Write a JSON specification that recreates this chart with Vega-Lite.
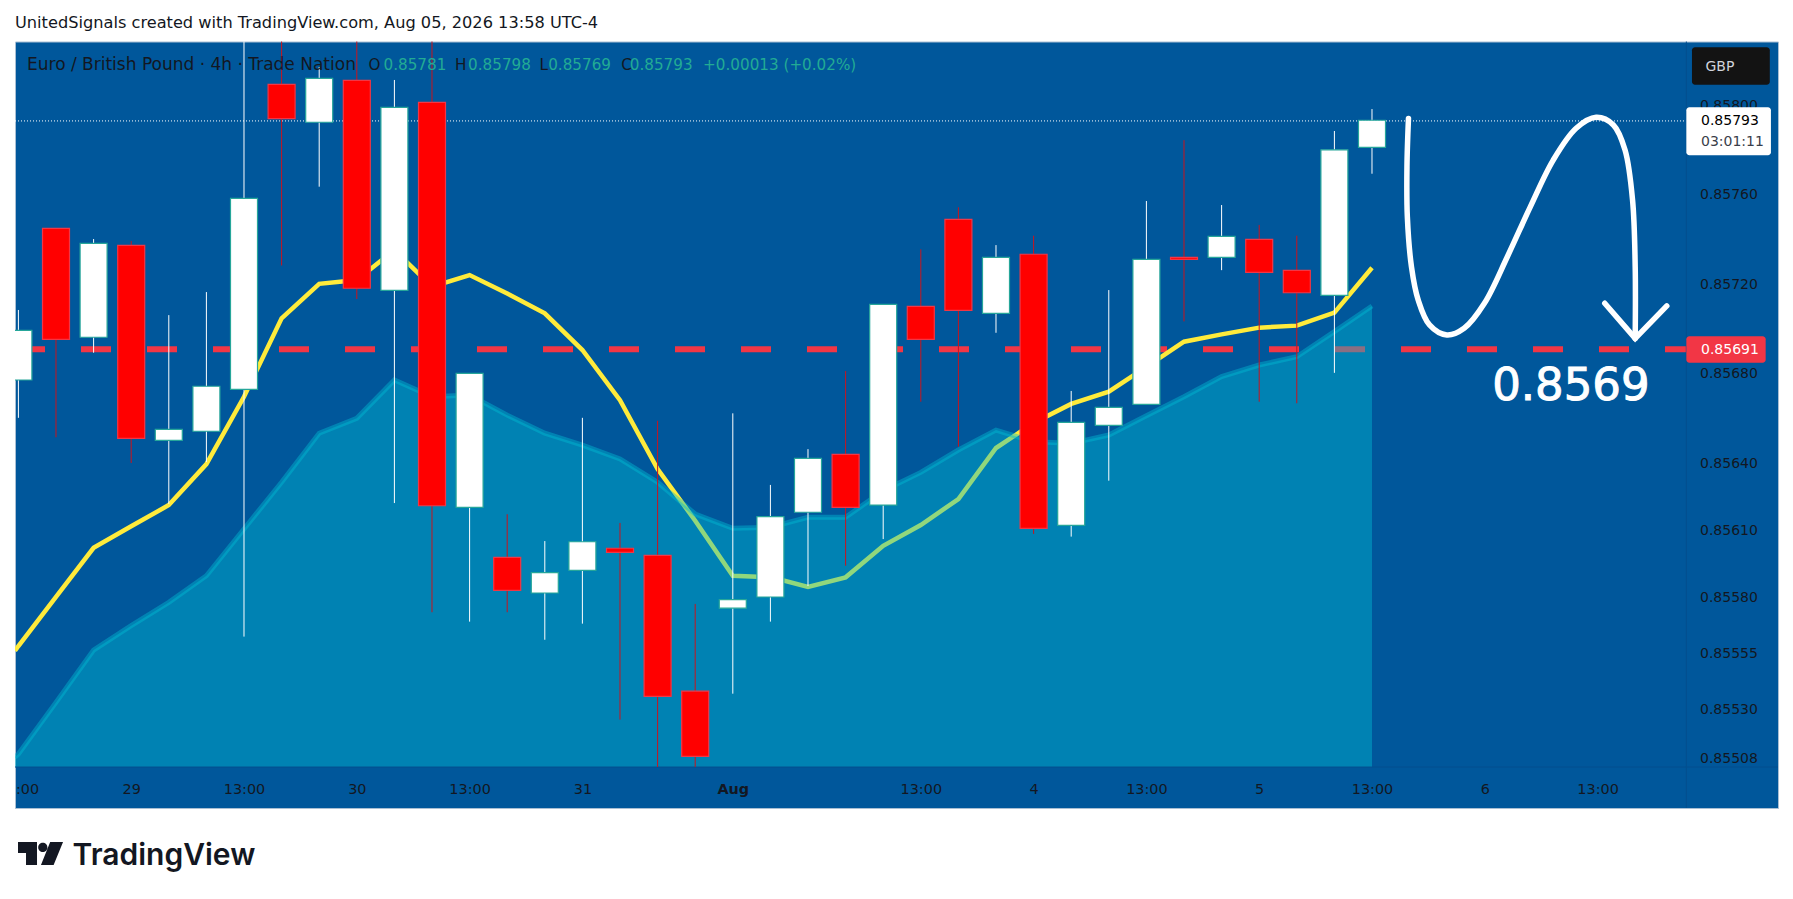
{
  "$schema": "https://vega.github.io/schema/vega-lite/v6.json",
  "width": 1763,
  "height": 766.5,
  "autosize": "none",
  "padding": {"left": 15, "top": 41.5, "right": 15, "bottom": 91},
  "background": "#ffffff",
  "view": {"fill": "#00579b", "stroke": "#a9bfd4", "strokeWidth": 1},
  "config": {"scale": {"continuousPadding": 0}},
  "title": {
    "text": "UnitedSignals created with TradingView.com, Aug 05, 2026 13:58 UTC-4",
    "anchor": "start",
    "frame": "group",
    "offset": 10,
    "font": "DejaVu Sans",
    "fontSize": 16.2,
    "fontWeight": "normal",
    "color": "#131722"
  },
  "data": {"values": [{"note": "annotation"}]},
  "datasets": {
    "candles": [
      {"i": 0, "open": 0.856772, "high": 0.857085, "low": 0.856603, "close": 0.856994, "dir": "up"},
      {"i": 1, "open": 0.85745, "high": 0.85745, "low": 0.856516, "close": 0.856954, "dir": "down"},
      {"i": 2, "open": 0.856963, "high": 0.857402, "low": 0.856894, "close": 0.857383, "dir": "up"},
      {"i": 3, "open": 0.857374, "high": 0.857393, "low": 0.856401, "close": 0.856511, "dir": "down"},
      {"i": 4, "open": 0.856502, "high": 0.857062, "low": 0.856218, "close": 0.856551, "dir": "up"},
      {"i": 5, "open": 0.856543, "high": 0.857165, "low": 0.856405, "close": 0.856744, "dir": "up"},
      {"i": 6, "open": 0.85673, "high": 0.858285, "low": 0.855625, "close": 0.857584, "dir": "up"},
      {"i": 7, "open": 0.858093, "high": 0.858285, "low": 0.857284, "close": 0.85794, "dir": "down"},
      {"i": 8, "open": 0.857924, "high": 0.858171, "low": 0.857636, "close": 0.85812, "dir": "up"},
      {"i": 9, "open": 0.858111, "high": 0.858285, "low": 0.857134, "close": 0.857182, "dir": "down"},
      {"i": 10, "open": 0.857173, "high": 0.858113, "low": 0.856222, "close": 0.857991, "dir": "up"},
      {"i": 11, "open": 0.858013, "high": 0.858285, "low": 0.855734, "close": 0.85621, "dir": "down"},
      {"i": 12, "open": 0.856203, "high": 0.856802, "low": 0.855692, "close": 0.856802, "dir": "up"},
      {"i": 13, "open": 0.855979, "high": 0.856172, "low": 0.855734, "close": 0.855832, "dir": "down"},
      {"i": 14, "open": 0.85582, "high": 0.856052, "low": 0.855611, "close": 0.855911, "dir": "up"},
      {"i": 15, "open": 0.855921, "high": 0.856603, "low": 0.855683, "close": 0.856049, "dir": "up"},
      {"i": 16, "open": 0.85602, "high": 0.856133, "low": 0.855254, "close": 0.856002, "dir": "down"},
      {"i": 17, "open": 0.855988, "high": 0.85659, "low": 0.855042, "close": 0.855358, "dir": "down"},
      {"i": 18, "open": 0.855381, "high": 0.855771, "low": 0.855042, "close": 0.85509, "dir": "down"},
      {"i": 19, "open": 0.855752, "high": 0.856623, "low": 0.85537, "close": 0.85579, "dir": "up"},
      {"i": 20, "open": 0.855802, "high": 0.856303, "low": 0.855692, "close": 0.856161, "dir": "up"},
      {"i": 21, "open": 0.856181, "high": 0.856463, "low": 0.855851, "close": 0.856422, "dir": "up"},
      {"i": 22, "open": 0.85644, "high": 0.856812, "low": 0.855942, "close": 0.856203, "dir": "down"},
      {"i": 23, "open": 0.856213, "high": 0.85711, "low": 0.856061, "close": 0.85711, "dir": "up"},
      {"i": 24, "open": 0.857101, "high": 0.857356, "low": 0.856675, "close": 0.856954, "dir": "down"},
      {"i": 25, "open": 0.85749, "high": 0.857544, "low": 0.856474, "close": 0.857083, "dir": "down"},
      {"i": 26, "open": 0.85707, "high": 0.857375, "low": 0.856983, "close": 0.85732, "dir": "up"},
      {"i": 27, "open": 0.857334, "high": 0.857417, "low": 0.856084, "close": 0.856109, "dir": "down"},
      {"i": 28, "open": 0.856122, "high": 0.856723, "low": 0.856072, "close": 0.856583, "dir": "up"},
      {"i": 29, "open": 0.856569, "high": 0.857174, "low": 0.856322, "close": 0.85665, "dir": "up"},
      {"i": 30, "open": 0.856663, "high": 0.857572, "low": 0.856663, "close": 0.857311, "dir": "up"},
      {"i": 31, "open": 0.85732, "high": 0.857844, "low": 0.857034, "close": 0.857311, "dir": "down"},
      {"i": 32, "open": 0.85732, "high": 0.857554, "low": 0.857263, "close": 0.857414, "dir": "up"},
      {"i": 33, "open": 0.857401, "high": 0.857465, "low": 0.856675, "close": 0.857253, "dir": "down"},
      {"i": 34, "open": 0.857262, "high": 0.857417, "low": 0.856668, "close": 0.857162, "dir": "down"},
      {"i": 35, "open": 0.85715, "high": 0.857885, "low": 0.856804, "close": 0.857801, "dir": "up"},
      {"i": 36, "open": 0.857812, "high": 0.857983, "low": 0.857694, "close": 0.857933, "dir": "up"}
    ],
    "averages": [
      {"i": -0.09, "fast": 0.855562, "slow": 0.855087},
      {"i": 0, "fast": 0.855583, "slow": 0.8551},
      {"i": 1, "fast": 0.855803, "slow": 0.855331},
      {"i": 2, "fast": 0.856022, "slow": 0.855565},
      {"i": 3, "fast": 0.856118, "slow": 0.855674},
      {"i": 4, "fast": 0.856213, "slow": 0.855778},
      {"i": 5, "fast": 0.856396, "slow": 0.855897},
      {"i": 6, "fast": 0.856697, "slow": 0.856106},
      {"i": 7, "fast": 0.857048, "slow": 0.856315},
      {"i": 8, "fast": 0.857202, "slow": 0.856534},
      {"i": 9, "fast": 0.857219, "slow": 0.856601},
      {"i": 10, "fast": 0.857353, "slow": 0.856772},
      {"i": 11, "fast": 0.857189, "slow": 0.856697},
      {"i": 12, "fast": 0.857241, "slow": 0.856705},
      {"i": 13, "fast": 0.857159, "slow": 0.856615},
      {"i": 14, "fast": 0.85707, "slow": 0.856534},
      {"i": 15, "fast": 0.856906, "slow": 0.856481},
      {"i": 16, "fast": 0.856682, "slow": 0.856419},
      {"i": 17, "fast": 0.856374, "slow": 0.856315},
      {"i": 18, "fast": 0.856143, "slow": 0.856173},
      {"i": 19, "fast": 0.855897, "slow": 0.856109},
      {"i": 20, "fast": 0.855891, "slow": 0.856114},
      {"i": 21, "fast": 0.855847, "slow": 0.856158},
      {"i": 22, "fast": 0.85589, "slow": 0.856158},
      {"i": 23, "fast": 0.856031, "slow": 0.856277},
      {"i": 24, "fast": 0.856124, "slow": 0.856359},
      {"i": 25, "fast": 0.85624, "slow": 0.856459},
      {"i": 26, "fast": 0.856468, "slow": 0.856548},
      {"i": 27, "fast": 0.85658, "slow": 0.856496},
      {"i": 28, "fast": 0.856665, "slow": 0.856489},
      {"i": 29, "fast": 0.85672, "slow": 0.856526},
      {"i": 30, "fast": 0.856831, "slow": 0.856612},
      {"i": 31, "fast": 0.856943, "slow": 0.856697},
      {"i": 32, "fast": 0.856976, "slow": 0.856787},
      {"i": 33, "fast": 0.857006, "slow": 0.856839},
      {"i": 34, "fast": 0.857015, "slow": 0.856876},
      {"i": 35, "fast": 0.857073, "slow": 0.856988},
      {"i": 36, "fast": 0.857274, "slow": 0.857103}
    ],
    "sketch": [
      {"n": 1, "i": 36.97, "p": 0.857941},
      {"n": 2, "i": 36.93, "p": 0.857725},
      {"n": 3, "i": 36.94, "p": 0.857502},
      {"n": 4, "i": 37.05, "p": 0.857278},
      {"n": 5, "i": 37.23, "p": 0.857129},
      {"n": 6, "i": 37.53, "p": 0.857018},
      {"n": 7, "i": 37.99, "p": 0.856973},
      {"n": 8, "i": 38.45, "p": 0.857003},
      {"n": 9, "i": 38.99, "p": 0.857115},
      {"n": 10, "i": 39.6, "p": 0.857323},
      {"n": 11, "i": 40.21, "p": 0.857546},
      {"n": 12, "i": 40.82, "p": 0.857755},
      {"n": 13, "i": 41.43, "p": 0.857897},
      {"n": 14, "i": 41.96, "p": 0.857946},
      {"n": 15, "i": 42.42, "p": 0.857912},
      {"n": 16, "i": 42.73, "p": 0.8578},
      {"n": 17, "i": 42.93, "p": 0.857576},
      {"n": 18, "i": 43, "p": 0.857278},
      {"n": 19, "i": 43, "p": 0.856958}
    ],
    "arrowhead": [
      {"n": 1, "i": 42.19, "p": 0.857115},
      {"n": 2, "i": 43, "p": 0.856958},
      {"n": 3, "i": 43.84, "p": 0.857103}
    ],
    "boxes": [
      {"i0": 44.51, "i1": 46.58, "p0": 0.858259, "p1": 0.858092, "kind": "currency"},
      {"i0": 44.36, "i1": 46.61, "p0": 0.857991, "p1": 0.857777, "kind": "last"},
      {"i0": 44.36, "i1": 46.47, "p0": 0.856968, "p1": 0.856849, "kind": "target"}
    ],
    "legendText": [
      {"i": 9.31, "p": 0.858182, "label": "O", "kind": "dark"},
      {"i": 9.71, "p": 0.858182, "label": "0.85781", "kind": "teal"},
      {"i": 11.61, "p": 0.858182, "label": "H", "kind": "dark"},
      {"i": 11.96, "p": 0.858182, "label": "0.85798", "kind": "teal"},
      {"i": 13.86, "p": 0.858182, "label": "L", "kind": "dark"},
      {"i": 14.09, "p": 0.858182, "label": "0.85769", "kind": "teal"},
      {"i": 16.03, "p": 0.858182, "label": "C", "kind": "dark"},
      {"i": 16.26, "p": 0.858182, "label": "0.85793", "kind": "teal"},
      {"i": 18.21, "p": 0.858182, "label": "+0.00013 (+0.02%)", "kind": "teal"}
    ],
    "priceTags": [
      {"i": 44.87, "p": 0.858172, "label": "GBP", "kind": "pale"},
      {"i": 44.75, "p": 0.857928, "label": "0.85793", "kind": "dark"},
      {"i": 44.75, "p": 0.857834, "label": "03:01:11", "kind": "grey"},
      {"i": 44.75, "p": 0.856905, "label": "0.85691", "kind": "white"}
    ]
  },
  "resolve": {"scale": {"color": "independent", "stroke": "independent"}},
  "layer": [
    {
      "mark": {"type": "rule", "color": "#f23645", "strokeWidth": 6, "strokeDash": [30, 36]},
      "encoding": {
        "x": {"datum": -0.0904, "type": "quantitative", "scale": {"domain": [-0.0904, 46.798]}},
        "x2": {"datum": 44.36},
        "y": {"datum": 0.85691, "type": "quantitative", "scale": {"domain": [0.854859, 0.858285]}}
      }
    },
    {
      "mark": {"type": "rule", "color": "#ffffff", "strokeWidth": 1, "strokeDash": [1, 2]},
      "encoding": {
        "x": {"datum": -0.0904, "type": "quantitative", "scale": {"domain": [-0.0904, 46.798]}},
        "x2": {"datum": 44.36},
        "y": {"datum": 0.85793, "type": "quantitative", "scale": {"domain": [0.854859, 0.858285]}}
      }
    },
    {
      "data": {"name": "averages"},
      "mark": {"type": "line", "color": "#ffeb3b", "strokeWidth": 4.5, "clip": true},
      "encoding": {
        "x": {"field": "i", "type": "quantitative", "scale": {"domain": [-0.0904, 46.798]},
          "axis": {
            "orient": "bottom", "offset": -19, "title": null, "grid": false, "domain": false, "ticks": false,
            "values": [0.23, 3, 6, 9, 12, 15, 19, 24, 27, 30, 33, 36, 39, 42],
            "labelExpr": "({'0.23': ':00', '3': '29', '6': '13:00', '9': '30', '12': '13:00', '15': '31', '19': 'Aug', '24': '13:00', '27': '4', '30': '13:00', '33': '5', '36': '13:00', '39': '6', '42': '13:00'})[datum.value]",
            "labelFontWeight": {"expr": "datum.value == 19 ? 'bold' : 'normal'"},
            "labelFont": "DejaVu Sans", "labelFontSize": 14.4, "labelColor": "#131722",
            "labelPadding": 0, "labelBaseline": "middle", "labelOverlap": false, "labelBound": false, "labelFlush": false, "labelAngle": 0
          }
        },
        "y": {"field": "fast", "type": "quantitative", "scale": {"domain": [0.854859, 0.858285]},
          "axis": {
            "orient": "right", "offset": -78.5, "title": null, "grid": false, "domain": false, "ticks": false,
            "values": [0.858, 0.8576, 0.8572, 0.8568, 0.8564, 0.8561, 0.8558, 0.85555, 0.8553, 0.85508],
            "format": ".5f",
            "labelFont": "DejaVu Sans", "labelFontSize": 14, "labelColor": "#131722",
            "labelPadding": 0, "labelAlign": "left", "labelBaseline": "middle", "labelOverlap": false, "labelBound": false, "labelFlush": false
          }
        }
      }
    },
    {
      "data": {"name": "averages"},
      "mark": {"type": "area", "color": "#00bcd4", "opacity": 0.43, "clip": true},
      "encoding": {
        "x": {"field": "i", "type": "quantitative", "scale": {"domain": [-0.0904, 46.798]}},
        "y": {"field": "slow", "type": "quantitative", "scale": {"domain": [0.854859, 0.858285]}},
        "y2": {"datum": 0.855042}
      }
    },
    {
      "data": {"name": "averages"},
      "mark": {"type": "line", "color": "#00bcd4", "opacity": 0.43, "strokeWidth": 5, "clip": true},
      "encoding": {
        "x": {"field": "i", "type": "quantitative", "scale": {"domain": [-0.0904, 46.798]}},
        "y": {"field": "slow", "type": "quantitative", "scale": {"domain": [0.854859, 0.858285]}}
      }
    },
    {
      "mark": {"type": "rule", "color": "#034f8e", "strokeWidth": 1},
      "encoding": {
        "y": {"datum": 0.855042, "type": "quantitative", "scale": {"domain": [0.854859, 0.858285]}}
      }
    },
    {
      "mark": {"type": "rule", "color": "#034f8e", "strokeWidth": 1},
      "encoding": {
        "x": {"datum": 44.36, "type": "quantitative", "scale": {"domain": [-0.0904, 46.798]}}
      }
    },
    {
      "data": {"name": "candles"},
      "mark": {"type": "rule", "strokeWidth": 1},
      "encoding": {
        "x": {"field": "i", "type": "quantitative", "scale": {"domain": [-0.0904, 46.798]}},
        "y": {"field": "high", "type": "quantitative", "scale": {"domain": [0.854859, 0.858285]}},
        "y2": {"field": "low"},
        "color": {"field": "dir", "type": "nominal", "legend": null,
          "scale": {"domain": ["up", "down"], "range": ["#ffffff", "#c8141e"]}}
      }
    },
    {
      "data": {"name": "candles"},
      "mark": {"type": "bar", "size": 27, "strokeWidth": 1.2, "clip": true},
      "encoding": {
        "x": {"field": "i", "type": "quantitative", "scale": {"domain": [-0.0904, 46.798]}},
        "y": {"field": "open", "type": "quantitative", "scale": {"domain": [0.854859, 0.858285]}},
        "y2": {"field": "close"},
        "color": {"field": "dir", "type": "nominal", "legend": null,
          "scale": {"domain": ["up", "down"], "range": ["#ffffff", "#ff0000"]}},
        "stroke": {"field": "dir", "type": "nominal", "legend": null,
          "scale": {"domain": ["up", "down"], "range": ["#26a69a", "#f23645"]}}
      }
    },
    {
      "data": {"name": "sketch"},
      "mark": {"type": "line", "color": "#ffffff", "strokeWidth": 5.5, "interpolate": "catmull-rom", "strokeCap": "round", "strokeJoin": "round"},
      "encoding": {
        "x": {"field": "i", "type": "quantitative", "scale": {"domain": [-0.0904, 46.798]}},
        "y": {"field": "p", "type": "quantitative", "scale": {"domain": [0.854859, 0.858285]}},
        "order": {"field": "n", "type": "quantitative"}
      }
    },
    {
      "data": {"name": "arrowhead"},
      "mark": {"type": "line", "color": "#ffffff", "strokeWidth": 5.5, "strokeCap": "round", "strokeJoin": "miter"},
      "encoding": {
        "x": {"field": "i", "type": "quantitative", "scale": {"domain": [-0.0904, 46.798]}},
        "y": {"field": "p", "type": "quantitative", "scale": {"domain": [0.854859, 0.858285]}},
        "order": {"field": "n", "type": "quantitative"}
      }
    },
    {
      "data": {"name": "boxes"},
      "mark": {"type": "rect", "cornerRadius": 3},
      "encoding": {
        "x": {"field": "i0", "type": "quantitative", "scale": {"domain": [-0.0904, 46.798]}},
        "x2": {"field": "i1"},
        "y": {"field": "p0", "type": "quantitative", "scale": {"domain": [0.854859, 0.858285]}},
        "y2": {"field": "p1"},
        "color": {"field": "kind", "type": "nominal", "legend": null,
          "scale": {"domain": ["currency", "last", "target"], "range": ["#131313", "#ffffff", "#f23645"]}}
      }
    },
    {
      "mark": {"type": "text", "color": "#131722", "align": "left", "baseline": "middle", "font": "DejaVu Sans", "fontSize": 17},
      "encoding": {
        "x": {"datum": 0.229, "type": "quantitative", "scale": {"domain": [-0.0904, 46.798]}},
        "y": {"datum": 0.858182, "type": "quantitative", "scale": {"domain": [0.854859, 0.858285]}},
        "text": {"value": "Euro / British Pound · 4h · Trade Nation"}
      }
    },
    {
      "data": {"name": "legendText"},
      "mark": {"type": "text", "align": "left", "baseline": "middle", "font": "DejaVu Sans", "fontSize": 15.2},
      "encoding": {
        "x": {"field": "i", "type": "quantitative", "scale": {"domain": [-0.0904, 46.798]}},
        "y": {"field": "p", "type": "quantitative", "scale": {"domain": [0.854859, 0.858285]}},
        "text": {"field": "label"},
        "color": {"field": "kind", "type": "nominal", "legend": null,
          "scale": {"domain": ["dark", "teal"], "range": ["#131722", "#22ab94"]}}
      }
    },
    {
      "data": {"name": "priceTags"},
      "mark": {"type": "text", "align": "left", "baseline": "middle", "font": "DejaVu Sans", "fontSize": 14},
      "encoding": {
        "x": {"field": "i", "type": "quantitative", "scale": {"domain": [-0.0904, 46.798]}},
        "y": {"field": "p", "type": "quantitative", "scale": {"domain": [0.854859, 0.858285]}},
        "text": {"field": "label"},
        "color": {"field": "kind", "type": "nominal", "legend": null,
          "scale": {"domain": ["dark", "grey", "pale", "white"], "range": ["#000000", "#3a3e4a", "#d1d4dc", "#ffffff"]}}
      }
    },
    {
      "mark": {"type": "text", "color": "#ffffff", "stroke": "#ffffff", "strokeWidth": 1, "font": "DejaVu Sans", "fontSize": 45, "align": "center", "baseline": "middle"},
      "encoding": {
        "x": {"datum": 41.29, "type": "quantitative", "scale": {"domain": [-0.0904, 46.798]}},
        "y": {"datum": 0.856746, "type": "quantitative", "scale": {"domain": [0.854859, 0.858285]}},
        "text": {"value": "0.8569"}
      }
    },
    {
      "mark": {
        "type": "point", "filled": true, "opacity": 1, "color": "#131722", "size": 2116, "strokeWidth": 0,
        "shape": "M-.978,-.5 H-.152 V.5 H-.63 V-.02 H-.978 Z M.42,-.5 H.98 L.57,.5 H.02 Z M-.1,-.26 A.2,.2 0 1,0 .3,-.26 A.2,.2 0 1,0 -.1,-.26 Z"
      },
      "encoding": {
        "x": {"datum": 0.588, "type": "quantitative", "scale": {"domain": [-0.0904, 46.798]}},
        "y": {"datum": 0.854656, "type": "quantitative", "scale": {"domain": [0.854859, 0.858285]}}
      }
    },
    {
      "mark": {"type": "text", "color": "#131722", "font": "Inter", "fontWeight": 600, "fontSize": 30, "align": "left", "baseline": "middle"},
      "encoding": {
        "x": {"datum": 1.44, "type": "quantitative", "scale": {"domain": [-0.0904, 46.798]}},
        "y": {"datum": 0.854646, "type": "quantitative", "scale": {"domain": [0.854859, 0.858285]}},
        "text": {"value": "TradingView"}
      }
    }
  ]
}
